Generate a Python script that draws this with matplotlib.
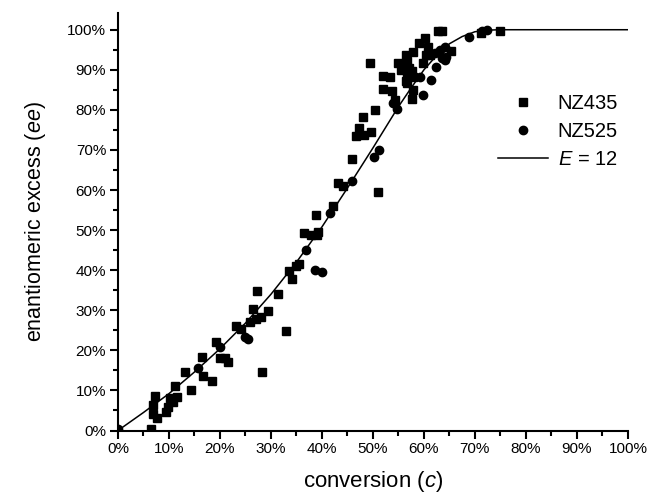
import matplotlib
matplotlib.use("Agg")
import matplotlib.pyplot as plt
from matplotlib.ticker import MultipleLocator, PercentFormatter

plt.rcParams['font.family'] = ['Liberation Sans', 'DejaVu Sans']
plt.rcParams['mathtext.fontset'] = 'custom'
plt.rcParams['mathtext.rm'] = 'Liberation Sans'
plt.rcParams['mathtext.it'] = 'Liberation Sans:italic'

# NZ435 (squares): conversion %, ee %
nz435_c = [6.4, 6.8, 7.3, 6.9, 7.6, 9.5, 9.9, 10.2, 11.5, 11.2, 10.7, 13.1, 14.4,
           16.5, 16.7, 18.5, 19.2, 20.1, 21.0, 21.6, 23.1, 24.1, 25.9, 26.4, 27.2,
           27.0, 28.0, 28.2, 29.5, 31.3, 32.9, 33.5, 34.2, 35.0, 35.5,
           36.5, 37.8, 39.0, 39.3, 38.8, 42.2, 43.2, 44.2, 45.8, 46.6, 47.3, 48.1,
           48.2, 49.6, 49.5, 50.4, 51.0,
           52.0, 53.3, 52.0, 53.7, 54.3, 55.0, 55.6, 56.5, 56.6, 56.3, 57.1, 57.6,
           56.6, 57.9, 56.5, 56.6, 57.9, 57.6, 57.8, 59.1, 60.2, 60.8, 60.4, 59.9,
           61.2, 62.8, 63.5, 65.4, 71.1, 75.0]
nz435_ee = [0.3, 6.4, 8.6, 4.1, 3.1, 4.7, 5.9, 8.0, 8.3, 11.2, 7.2, 14.5, 10.1,
            18.4, 13.6, 12.4, 22.2, 18.2, 18.0, 17.0, 26.1, 25.3, 27.2, 30.3, 34.9,
            27.8, 28.3, 14.7, 29.7, 34.1, 24.9, 39.7, 37.8, 41.0, 41.5,
            49.4, 48.8, 48.8, 49.6, 53.8, 56.1, 61.7, 61.0, 67.8, 73.5, 75.5, 78.2,
            73.8, 74.4, 91.6, 80.0, 59.4,
            88.5, 88.3, 85.2, 84.6, 82.5, 91.7, 90.0, 93.8, 92.1, 90.8, 90.4, 89.6,
            88.8, 88.3, 87.1, 86.7, 85.0, 82.7, 94.5, 96.7, 97.9, 95.8, 93.8, 91.7,
            93.8, 99.6, 99.7, 94.6, 99.3, 99.6]

# NZ525 (circles)
nz525_c = [0.0, 15.7, 20.1, 24.9, 25.5, 36.9, 38.6, 40.1, 41.6, 45.8, 50.3, 51.1,
           54.0, 54.7, 59.3, 59.9, 61.3, 62.4, 62.2, 63.1, 64.1, 64.4, 63.5, 64.1,
           68.9, 71.3, 72.3]
nz525_ee = [0.3, 15.5, 20.9, 23.4, 22.8, 45.1, 40.1, 39.5, 54.3, 62.3, 68.2, 70.1,
            81.7, 80.3, 88.2, 83.8, 87.5, 90.8, 94.2, 95.0, 95.8, 93.3, 92.9, 92.5,
            98.3, 99.8, 100.0]

# E = 12 curve
curve_c = [0, 5, 10, 15, 20, 25, 30, 35, 40, 45, 50, 55, 57.5, 60, 62.5, 65,
           67.5, 70, 72.5, 75, 80, 100]
curve_ee = [0, 4.5, 9.2, 14.6, 20.4, 26.8, 34.0, 42.0, 50.8, 60.5, 70.5, 80.8,
            85.5, 90.0, 93.6, 96.5, 98.3, 99.5, 99.9, 100, 100, 100]

fig = plt.figure(figsize=(6.5, 4.96), dpi=100)
ax = fig.add_axes([0.1815, 0.132, 0.7845, 0.842])

ax.plot(nz435_c, nz435_ee, 's', color='black', markersize=5.5, label='NZ435')
ax.plot(nz525_c, nz525_ee, 'o', color='black', markersize=6, label='NZ525')
ax.plot(curve_c, curve_ee, '-', color='black', linewidth=1.1, label='$E$ = 12')

ax.set_xlim(0, 100)
ax.set_ylim(0, 104.2)
ax.xaxis.set_major_locator(MultipleLocator(10))
ax.xaxis.set_minor_locator(MultipleLocator(5))
ax.yaxis.set_major_locator(MultipleLocator(10))
ax.yaxis.set_minor_locator(MultipleLocator(5))
ax.xaxis.set_major_formatter(PercentFormatter(decimals=0))
ax.yaxis.set_major_formatter(PercentFormatter(decimals=0))
for side in ['top', 'right']:
    ax.spines[side].set_visible(False)
for side in ['left', 'bottom']:
    ax.spines[side].set_linewidth(1.5)
ax.tick_params(which='major', direction='out', length=6, width=1.5,
               labelsize=11, pad=2.5)
ax.tick_params(which='minor', direction='out', length=3.5, width=1.5)

ax.set_xlabel('conversion ($c$)', fontsize=16, labelpad=9)
ax.set_ylabel('enantiomeric excess ($ee$)', fontsize=15.5, labelpad=14)

ax.legend(loc='upper left', bbox_to_anchor=(0.71, 0.85), frameon=False,
          fontsize=14.5, handlelength=2.5, handletextpad=0.45, labelspacing=0.45)

fig.savefig('out.png', dpi=100)
